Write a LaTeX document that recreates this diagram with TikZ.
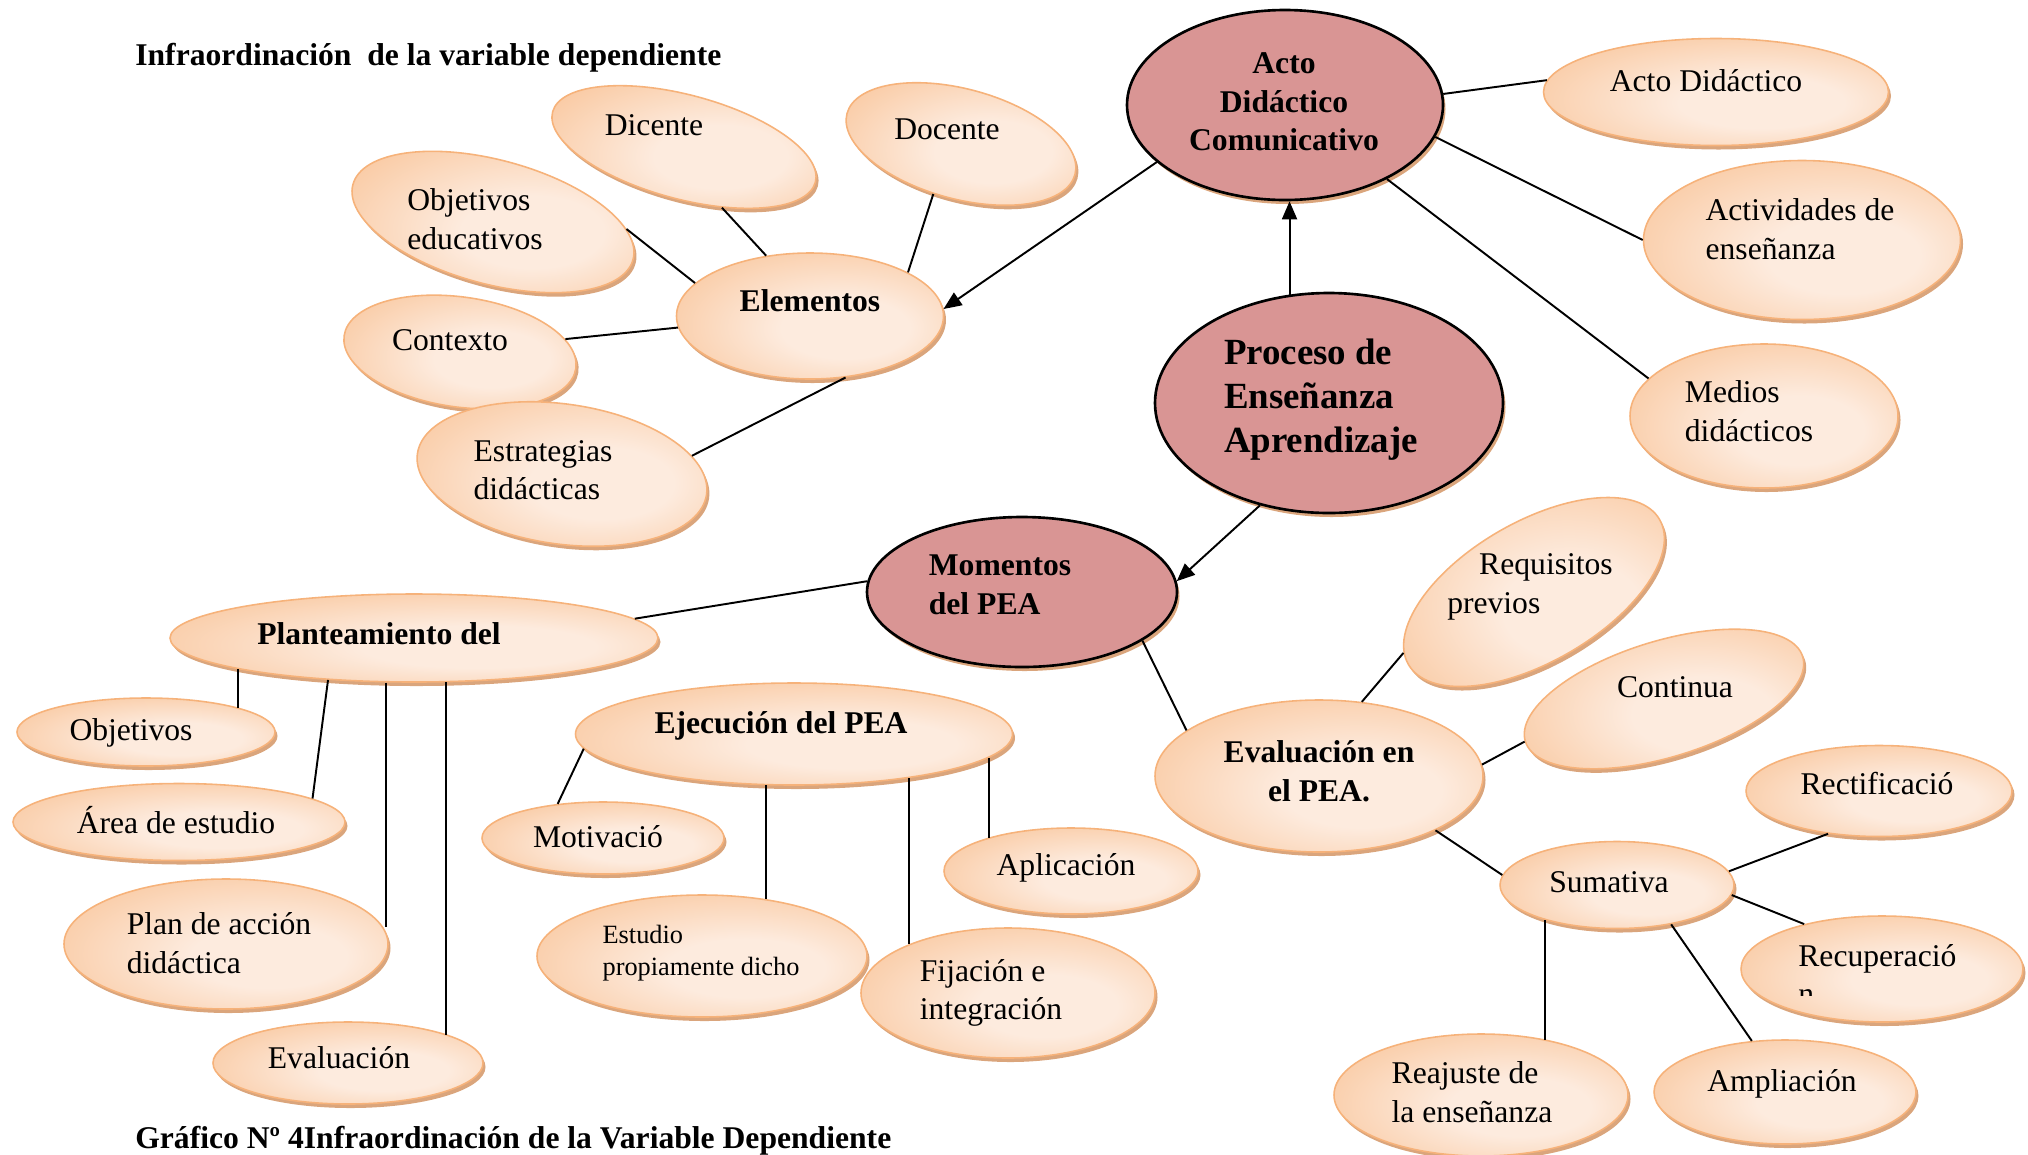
\documentclass[tikz,border=0pt]{standalone}
\usepackage{fontspec}
\setmainfont{Liberation Serif}
\usetikzlibrary{shapes.geometric,shadows,arrows.meta}

\definecolor{pillin}{RGB}{253,235,222}
\definecolor{pillout}{RGB}{248,190,142}
\definecolor{pillline}{RGB}{246,178,122}
\definecolor{pillshadow}{RGB}{218,165,124}
\definecolor{corefill}{RGB}{217,149,148}

\pgfdeclareradialshading{pillglow}{\pgfpoint{8bp}{-6bp}}{color(0bp)=(pillin); color(12bp)=(pillin); color(42bp)=(pillout); color(70bp)=(pillout)}

\tikzset{
  pill/.style={
    ellipse,
    draw=pillline, line width=0.9pt,
    shade, shading=pillglow,
    inner sep=0pt,
    drop shadow={shadow xshift=0.05cm, shadow yshift=-0.08cm, fill=pillshadow, opacity=1},
  },
  core/.style={
    ellipse,
    draw=black, line width=1.5pt,
    fill=corefill,
    inner sep=0pt,
    drop shadow={shadow xshift=0.05cm, shadow yshift=-0.08cm, fill=pillshadow, opacity=1},
  },
  wh/.style 2 args={minimum width=#1*0.02cm, minimum height=#2*0.02cm},
  txt/.style={inner sep=0pt, font=\fontsize{18}{22}\selectfont},
  btxt/.style={inner sep=0pt, font=\fontsize{18}{22}\selectfont\bfseries},
  bigtxt/.style={inner sep=0pt, font=\fontsize{21}{25}\selectfont\bfseries},
  smalltxt/.style={inner sep=0pt, font=\fontsize{15}{18}\selectfont},
  link/.style={line width=1.1pt},
}

\begin{document}
\begin{tikzpicture}[x=0.02cm, y=-0.02cm, >={Triangle[length=0.36cm,width=0.3cm]}]
  \useasboundingbox (0,0) rectangle (2028,1154);

  % main ellipses
  \node[core, wh={348}{220}] (proc) at (1329,403) {};
  \node[core, wh={316}{190}] (acto) at (1285,105) {};
  \node[core, wh={310}{150}] (mom) at (1022,592) {};

  % acto didactico
  \node[pill, wh={345}{107}] (actd) at (1716,92) {};
  \node[pill, wh={317}{159}] (activ) at (1802,240) {};
  \node[pill, wh={268}{144}] (medios) at (1764,416) {};

  % elementos
  \node[pill, wh={267}{126}] (elem) at (810,316) {};
  \node[pill, wh={272}{104}, rotate=-15] (dic) at (684,147) {};
  \node[pill, wh={236}{110}, rotate=-15] (doc) at (961,144) {};
  \node[pill, wh={290}{124}, rotate=-15] (objed) at (493,222) {};
  \node[pill, wh={234}{110}, rotate=-8] (ctx) at (460,352) {};
  \node[pill, wh={292}{140}, rotate=-8] (estr) at (562,474) {};

  % planteamiento
  \node[pill, wh={488}{88}] (plant) at (414,638) {};
  \node[pill, wh={258}{68}] (obj) at (146,732) {};
  \node[pill, wh={332}{77}] (area) at (179,822) {};
  \node[pill, wh={324}{130}] (plan) at (226,944) {};
  \node[pill, wh={270}{82}] (eval) at (348,1063) {};

  % ejecucion
  \node[pill, wh={437}{102}] (ejec) at (794,734) {};
  \node[pill, wh={242}{72}] (motiv) at (603,838) {};
  \node[pill, wh={330}{122}] (estud) at (702,956) {};
  \node[pill, wh={254}{86}] (aplic) at (1071,871) {};
  \node[pill, wh={294}{130}] (fij) at (1008,993) {};

  % evaluacion
  \node[pill, wh={328}{152}] (evpea) at (1319,776) {};
  \node[pill, wh={290}{140}, rotate=30] (req) at (1534,592) {};
  \node[pill, wh={290}{116}, rotate=17] (cont) at (1664,699) {};
  \node[pill, wh={266}{91}] (rect) at (1879,791) {};
  \node[pill, wh={234}{87}] (sum) at (1617,885) {};
  \node[pill, wh={282}{106}] (recu) at (1882,969) {};
  \node[pill, wh={294}{122}] (reaj) at (1481,1095) {};
  \node[pill, wh={262}{104}] (ampl) at (1785,1092) {};

  % texts
  \node[btxt, anchor=west] (ttl) at (135,58) {Infraordinación\ \ de la variable dependiente};
  \node[btxt, anchor=west] (cap) at (135,1141) {Gráfico Nº 4Infraordinación de la Variable Dependiente};

  \node[btxt, align=center] (acto-t) at (1284,102) {Acto\\Didáctico\\Comunicativo};
  \node[bigtxt, align=left] (proc-t) at (1321,400) {Proceso de\\Enseñanza\\Aprendizaje};
  \node[btxt, align=left] (mom-t) at (1000,585) {Momentos\\del PEA};
  \node[txt] (actd-t) at (1706,81) {Acto Didáctico};
  \node[txt, align=left] (activ-t) at (1800,229) {Actividades de\\enseñanza};
  \node[txt, align=left] (medios-t) at (1749,411) {Medios\\didácticos};
  \node[btxt] (elem-t) at (810,301) {Elementos};
  \node[txt] (dic-t) at (654,125) {Dicente};
  \node[txt] (doc-t) at (947,129) {Docente};
  \node[txt, align=left] (objed-t) at (475,219) {Objetivos\\educativos};
  \node[txt] (ctx-t) at (450,340) {Contexto};
  \node[txt, align=left] (estr-t) at (543,470) {Estrategias\\didácticas};
  \node[btxt] (plant-t) at (379,634) {Planteamiento del};
  \node[txt] (obj-t) at (131,733) {Objetivos};
  \node[txt] (area-t) at (176,820) {Área de estudio};
  \node[txt, align=left] (plan-t) at (219,943) {Plan de acción\\didáctica};
  \node[txt] (eval-t) at (339,1058) {Evaluación};
  \node[btxt] (ejec-t) at (781,726) {Ejecución del PEA};
  \node[txt] (motiv-t) at (598,837) {Motivació};
  \node[smalltxt, align=left] (estud-t) at (701,953) {Estudio\\propiamente dicho};
  \node[txt] (aplic-t) at (1066,868) {Aplicación};
  \node[txt, align=left] (fij-t) at (991,993) {Fijación e\\integración};
  \node[btxt, align=center] (evpea-t) at (1319,771) {Evaluación en\\el PEA.};
  \node[txt, align=left] (req-t) at (1530,587) {\hspace*{0.64cm}Requisitos\\previos};
  \node[txt] (cont-t) at (1675,687) {Continua};
  \node[txt] (rect-t) at (1877,784) {Rectificació};
  \node[txt] (sum-t) at (1609,882) {Sumativa};
  \node[txt, anchor=base west] (recu-t) at (1798,966) {Recuperació};
  \node[txt, align=left] (reaj-t) at (1472,1092) {Reajuste de\\la enseñanza};
  \node[txt] (ampl-t) at (1782,1084) {Ampliación};

  % cut off second line
  \coordinate (recu-nb) at ([yshift=-0.76cm]recu-t.base west);
  \begin{scope}
    \clip ([yshift=0.18cm]recu-nb) rectangle ([xshift=1cm, yshift=0.6cm]recu-nb);
    \node[txt, anchor=base west] (recu-n) at (recu-nb) {n};
  \end{scope}

  % arrows
  \draw[link, ->] (acto.204) -- (elem.3);
  \draw[link, ->] (proc.110) -- (proc.110 |- acto.south);
  \draw[link, ->] (proc.236) -- (mom.4);

  % lines
  \draw[link] (acto.4) -- (actd.176);
  \draw[link] (acto.-12) -- (activ.180);
  \draw[link] (acto.-36) -- (medios.162);
  \draw[link] (elem.126) -- (dic.-43);
  \draw[link] (elem.24) -- (doc.-104);
  \draw[link] (elem.164) -- (objed.12);
  \draw[link] (elem.185) -- (ctx.15);
  \draw[link] (elem.-60) -- (estr.16);
  \draw[link] (mom.176) -- (plant.5);
  \draw[link] (mom.-22) -- (evpea.161);
  \draw[link] (plant.190) -- (plant.190 |- obj.14);
  \draw[link] (plant.206) -- (area.10);
  \draw[link] (plant.238) -- (plant.238 |- plan.6);
  \draw[link] (plant.-54) -- (plant.-54 |- eval.16);
  \draw[link] (ejec.184) -- (motiv.143);
  \draw[link] (ejec.241) -- (ejec.241 |- estud.42);
  \draw[link] (ejec.-21) -- (ejec.-21 |- fij.154);
  \draw[link] (ejec.-7) -- (ejec.-7 |- aplic.159);
  \draw[link] (evpea.60) -- (req.175);
  \draw[link] (evpea.4) -- (cont.180);
  \draw[link] (evpea.-25) -- (sum.175);
  \draw[link] (sum.7) -- (rect.220);
  \draw[link] (sum.-5) -- (recu.150);
  \draw[link] (sum.206) -- (sum.206 |- reaj.40);
  \draw[link] (sum.-36) -- (ampl.123);
\end{tikzpicture}
\end{document}
